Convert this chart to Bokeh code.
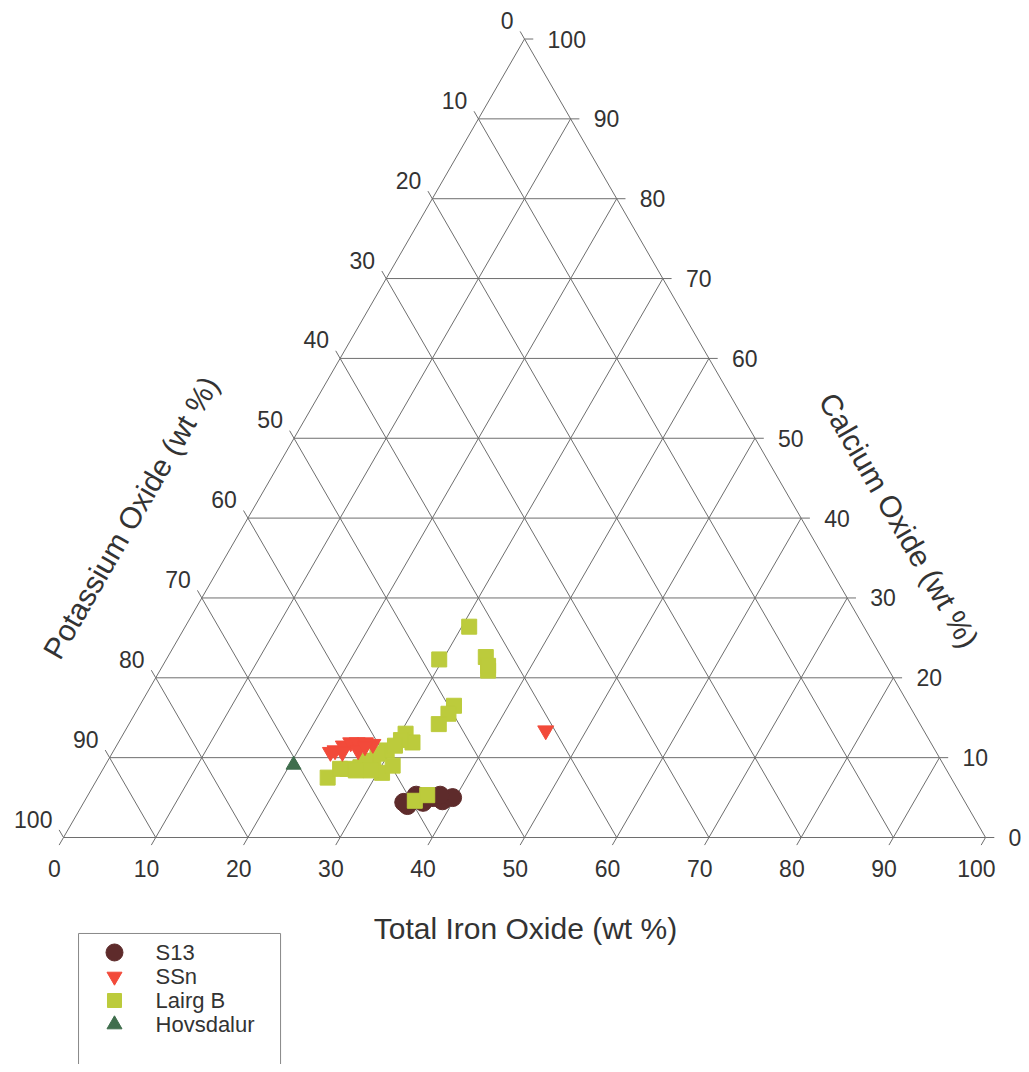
import math
from bokeh.plotting import figure
from bokeh.models import ColumnDataSource
from bokeh.core.properties import value
from bokeh.embed import file_html
from bokeh.resources import INLINE

# ---------------- data (wt %) ----------------
tick_values = [0, 10, 20, 30, 40, 50, 60, 70, 80, 90, 100]
tick_labels = [str(v) for v in tick_values]

series_names = ["S13", "SSn", "Lairg B", "Hovsdalur"]

s13_fe = [34.7, 35.6, 36.8, 37.6, 38.8, 39.7, 35.3, 38.2]
s13_ca = [4.4, 5.3, 4.4, 5.0, 4.6, 5.0, 4.0, 5.3]

ssn_fe = [24.0, 24.6, 25.2, 25.9, 26.8, 27.7, 24.9, 23.6, 26.5, 27.0, 45.6]
ssn_ca = [10.9, 11.5, 11.9, 11.9, 11.9, 11.7, 10.7, 10.7, 10.9, 11.4, 13.4]

lairg_fe = [30.8, 29.6, 34.5, 35.6, 35.3, 34.1, 34.0, 33.6, 30.6, 31.9, 30.5,
            24.9, 26.5, 27.8, 28.8, 30.5, 29.6, 28.8, 28.0, 27.5, 29.1, 25.7,
            31.2, 30.2, 35.8, 36.8]
lairg_ca = [26.4, 22.3, 22.6, 20.9, 21.5, 16.5, 15.5, 14.2, 13.0, 11.9, 12.2,
            7.5, 8.6, 8.8, 9.6, 8.1, 10.9, 10.5, 9.6, 8.4, 8.4, 8.6,
            9.0, 11.5, 4.6, 5.3]

hov_fe = [20.4]
hov_ca = [9.1]

# ---------------- helpers ----------------
H = math.sqrt(3) / 2


def tx(fe, ca):
    return [f + c / 2 for f, c in zip(fe, ca)]


def ty(ca):
    return [c * H for c in ca]


GRID = "#6e6e6e"
TXT = "#333333"
FONT = value("Liberation Sans")

p = figure(width=1021, height=1064, output_backend="svg", toolbar_location=None,
           x_range=(-6.833, 103.9), y_range=(-24.62, 90.78),
           min_border=0, border_fill_color="white", outline_line_color=None)
p.axis.visible = False
p.grid.visible = False

# grid lines
gx, gy = [], []
for v in tick_values[1:-1]:
    gx.append([v / 2, 100 - v / 2]); gy.append([v * H, v * H])            # Ca = v
    gx.append([v, v + (100 - v) / 2]); gy.append([0, (100 - v) * H])      # Fe = v
    gx.append([100 - v, (100 - v) / 2]); gy.append([0, (100 - v) * H])    # K = v
# outer triangle
gx.append([0, 100, 50, 0]); gy.append([0, 0, 100 * H, 0])
p.multi_line(gx, gy, line_color=GRID, line_width=1)

# tick marks
t = 0.95
kx, ky = [], []
for v in tick_values:
    kx.append([v, v - 0.5 * t]); ky.append([0, -H * t])                     # bottom (Fe)
    xr = 100 - v / 2
    kx.append([xr, xr + t]); ky.append([v * H, v * H])                       # right (Ca)
    xl = (100 - v) / 2
    kx.append([xl, xl - 0.5 * t]); ky.append([(100 - v) * H, (100 - v) * H + H * t])  # left (K)
p.multi_line(kx, ky, line_color=GRID, line_width=1)

# tick labels
bot = ColumnDataSource(dict(x=[v - 1.0 for v in tick_values], y=[-3.4] * 11, t=tick_labels))
p.text("x", "y", text="t", source=bot, text_align="center", text_baseline="middle",
       text_font=FONT, text_font_size="23px", text_color=TXT)
rgt = ColumnDataSource(dict(x=[100 - v / 2 + 2.5 for v in tick_values],
                            y=[v * H for v in tick_values], t=tick_labels))
p.text("x", "y", text="t", source=rgt, text_align="left", text_baseline="middle",
       text_font=FONT, text_font_size="23px", text_color=TXT)
lft = ColumnDataSource(dict(x=[(100 - v) / 2 - 1.2 for v in tick_values],
                            y=[(100 - v) * H + 2.0 for v in tick_values], t=tick_labels))
p.text("x", "y", text="t", source=lft, text_align="right", text_baseline="middle",
       text_font=FONT, text_font_size="23px", text_color=TXT)

# axis titles
p.text([50.1], [-9.87], text=["Total Iron Oxide (wt %)"], text_align="center",
       text_baseline="middle", text_font=FONT, text_font_size="30px", text_color=TXT)
p.text([7.3], [34.7], text=["Potassium Oxide (wt %)"], angle=math.pi / 3,
       text_align="center", text_baseline="middle", text_font=FONT,
       text_font_size="30px", text_color=TXT)
p.text([90.6], [34.4], text=["Calcium Oxide (wt %)"], angle=-math.pi / 3,
       text_align="center", text_baseline="middle", text_font=FONT,
       text_font_size="30px", text_color=TXT)

# data
colors = ["#5e2b2b", "#f24a3a", "#bccb3c", "#3f6e4d"]
p.scatter(tx(lairg_fe, lairg_ca), ty(lairg_ca), marker="square", size=15,
          fill_color=colors[2], line_color=colors[2])
p.scatter(tx(ssn_fe, ssn_ca), ty(ssn_ca), marker="inverted_triangle", size=16,
          fill_color=colors[1], line_color=colors[1])
p.scatter(tx(s13_fe, s13_ca), ty(s13_ca), marker="circle", size=18,
          fill_color=colors[0], line_color=colors[0])
p.scatter(tx(lairg_fe[-2:], lairg_ca[-2:]), ty(lairg_ca[-2:]), marker="square", size=15,
          fill_color=colors[2], line_color=colors[2])
p.scatter(tx(hov_fe, hov_ca), ty(hov_ca), marker="triangle", size=15,
          fill_color=colors[3], line_color=colors[3])

# legend (drawn manually)
lx0, lx1, ly0, ly1 = 1.63, 23.54, -26.0, -10.41
p.line([lx0, lx0, lx1, lx1], [ly0, ly1, ly1, ly0], line_color="#888888", line_width=1)
leg_y = [-12.47, -15.08, -17.68, -20.28]
markers = ["circle", "inverted_triangle", "square", "triangle"]
msizes = [17, 15, 14, 15]
for yy, mk, col, ms in zip(leg_y, markers, colors, msizes):
    p.scatter([5.53], [yy], marker=mk, size=ms, fill_color=col, line_color=col)
p.text([9.98] * 4, leg_y, text=series_names, text_align="left", text_baseline="middle",
       text_font=FONT, text_font_size="22px", text_color=TXT)

open("out.html", "w").write(file_html(p, INLINE))
